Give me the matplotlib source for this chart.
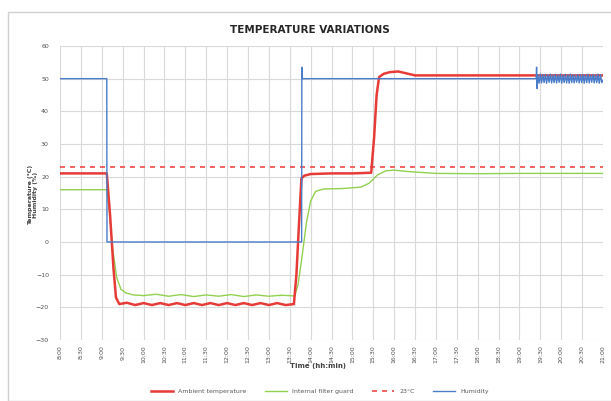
import matplotlib
matplotlib.use("Agg")
import matplotlib.pyplot as plt
from matplotlib.patches import Rectangle

# time in hours from the first tick
time_labels = ["8:00", "8:30", "9:00", "9:30", "10:00", "10:30", "11:00", "11:30", "12:00",
               "12:30", "13:00", "13:30", "14:00", "14:30", "15:00", "15:30", "16:00", "16:30",
               "17:00", "17:30", "18:00", "18:30", "19:00", "19:30", "20:00", "20:30", "21:00"]
tick_pos = [i * 0.5 for i in range(len(time_labels))]

ambient_t = [0, 1.12, 1.20, 1.28, 1.34, 1.42, 1.6, 1.8, 2.0, 2.2, 2.4, 2.6, 2.8, 3.0, 3.2,
             3.4, 3.6, 3.8, 4.0, 4.2, 4.4, 4.6, 4.8, 5.0, 5.2, 5.4, 5.6, 5.66, 5.72, 5.78,
             5.85, 6.0, 6.5, 7.0, 7.45, 7.52, 7.58, 7.64, 7.75, 7.9, 8.1, 8.3, 8.5, 9.0, 10.0,
             11.0, 12.0, 13.0]
ambient_v = [21, 21, 8, -8, -17, -19, -18.6, -19.3, -18.7, -19.3, -18.7, -19.3, -18.7, -19.3,
             -18.7, -19.3, -18.7, -19.3, -18.7, -19.3, -18.7, -19.3, -18.7, -19.3, -18.7,
             -19.3, -19, -10, 5, 19.5, 20.3, 20.8, 21, 21, 21.2, 32, 45, 50.5, 51.5, 52, 52.2,
             51.6, 51, 51, 51, 51, 51, 51]

filter_t = [0, 1.12, 1.18, 1.26, 1.36, 1.46, 1.58, 1.75, 2.0, 2.3, 2.6, 2.9, 3.2, 3.5, 3.8,
            4.1, 4.4, 4.7, 5.0, 5.3, 5.62, 5.70, 5.80, 5.90, 6.00, 6.12, 6.3, 6.8, 7.2, 7.4,
            7.6, 7.8, 8.0, 8.3, 9.0, 10.0, 11.0, 12.0, 13.0]
filter_v = [16, 16, 10, -2, -11, -14.5, -15.6, -16.2, -16.4, -16.0, -16.6, -16.1, -16.7,
            -16.2, -16.6, -16.1, -16.7, -16.2, -16.6, -16.3, -16.5, -13, -4, 6, 12.5, 15.5,
            16.2, 16.4, 16.8, 18, 20.5, 21.8, 22, 21.6, 21, 20.9, 21, 21, 21]

humidity_t = [0, 1.12, 1.125, 5.785, 5.79, 5.80, 11.40, 11.41, 11.42, 11.44, 11.47, 11.50,
              11.53, 11.56, 11.59, 11.62, 11.65, 11.68, 11.71, 11.74, 11.77, 11.80, 11.83,
              11.86, 11.89, 11.92, 11.95, 11.98, 12.01, 12.04, 12.07, 12.10, 12.13, 12.16,
              12.19, 12.22, 12.25, 12.28, 12.31, 12.34, 12.37, 12.40, 12.43, 12.46, 12.49,
              12.52, 12.55, 12.58, 12.61, 12.64, 12.67, 12.70, 12.73, 12.76, 12.79, 12.82,
              12.85, 12.88, 12.91, 12.94, 12.97, 13.0]
humidity_v = [50, 50, 0, 0, 53.5, 50, 50, 53.5, 47, 51.2, 48.6, 51.4, 48.7, 51.2, 48.8, 51.3,
              48.6, 51.2, 48.9, 51.4, 48.7, 51.1, 48.8, 51.3, 48.7, 51.2, 48.9, 51.4, 48.6,
              51.1, 48.8, 51.3, 48.7, 51.2, 48.6, 51.4, 48.8, 51.2, 48.7, 51.1, 48.9, 51.3,
              48.7, 51.2, 48.8, 51.3, 48.6, 51.2, 48.8, 51.4, 48.7, 51.1, 48.9, 51.3, 48.7,
              51.2, 48.8, 51.4, 48.6, 51.2, 48.8, 49.5]

setpoint = 23

fig = plt.figure(figsize=(6.11, 4.01), dpi=100)
fig.patches.append(Rectangle((8 / 611, 0), 1, 1 - 12 / 401, transform=fig.transFigure,
                             fill=False, edgecolor="#d0d0d0", linewidth=1.0))
ax = fig.add_axes([60 / 611, 1 - 340 / 401, 543 / 611, 294 / 401])

ax.plot(filter_t, filter_v, color="#92d050", linewidth=1.0, label="Internal filter guard", zorder=3)
ax.plot(ambient_t, ambient_v, color="#e63b36", linewidth=1.8, label="Ambient temperature", zorder=4)
ax.plot(humidity_t, humidity_v, color="#4a7cc9", linewidth=1.0, label="Humidity", zorder=5)
ax.axhline(setpoint, color="#f04848", linewidth=1.2, linestyle=(0, (3, 3)), label="23°C", zorder=2)

ax.set_xlim(0, 13)
ax.set_ylim(-30, 60)
ax.set_xticks(tick_pos)
ax.set_xticklabels(time_labels, rotation=90, fontsize=4.5, color="#505050")
ax.set_yticks(range(-30, 61, 10))
ax.tick_params(axis="y", labelsize=4.5, labelcolor="#505050", length=0, pad=8)
ax.tick_params(axis="x", length=0, pad=4)
ax.grid(True, color="#d9d9d9", linewidth=0.8)
ax.set_axisbelow(True)
for s in ax.spines.values():
    s.set_visible(False)

fig.text(310 / 611, 1 - 30 / 401, "TEMPERATURE VARIATIONS", ha="center", va="center",
         fontsize=7.5, fontweight="bold", color="#262626")
fig.text(33 / 611, 1 - 195 / 401, "Temperature (°C)\nHumidity (%)", ha="center", va="center",
         rotation=90, fontsize=4.5, fontweight="bold", color="#404040")
fig.text(318 / 611, 1 - 366 / 401, "Time (hh:min)", ha="center", va="center",
         fontsize=5, fontweight="bold", color="#404040")

handles, labels = ax.get_legend_handles_labels()
order = [1, 0, 3, 2]
fig.legend([handles[i] for i in order], [labels[i] for i in order], loc="center",
           bbox_to_anchor=(320 / 611, 1 - 391 / 401), ncol=4, frameon=False, fontsize=4.5,
           handlelength=3.5, columnspacing=3, labelcolor="#595959")

fig.savefig("out.png", dpi=100)
